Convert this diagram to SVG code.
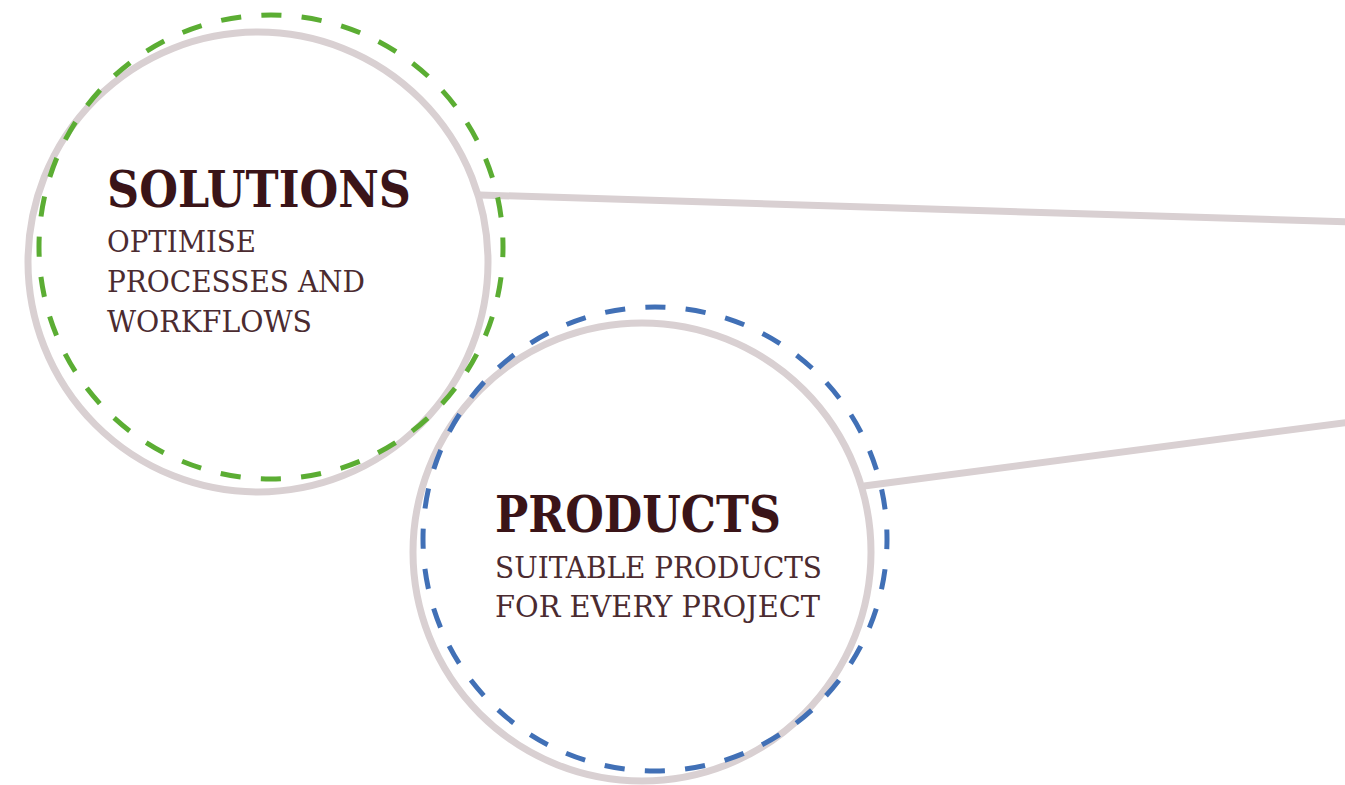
<svg xmlns="http://www.w3.org/2000/svg" width="1345" height="785" viewBox="0 0 1345 785">
  <style>
    .ring { fill: none; stroke: #d9d0d2; stroke-width: 7; }
    .dash { fill: none; stroke-width: 5; stroke-dasharray: 20.25 20.24; stroke-dashoffset: 10.12; }
    .green { stroke: #5bad33; }
    .blue { stroke: #4170b6; }
    .conn { stroke: #d9d0d2; stroke-width: 7; fill: none; }
    .title { font-family: "DejaVu Serif", "Liberation Serif", serif; font-weight: bold; font-size: 50px; fill: #3a1418; }
    .sub { font-family: "DejaVu Serif", "Liberation Serif", serif; font-size: 30px; fill: #4b2b30; }
  </style>
  <rect width="1345" height="785" fill="#ffffff"/>
  <g id="connectors">
    <line class="conn" x1="480" y1="195" x2="1350" y2="222"/>
    <line class="conn" x1="864" y1="486" x2="1350" y2="422"/>
  </g>
  <g id="solutions">
    <circle class="ring" cx="258" cy="262" r="230"/>
    <circle class="dash green" cx="271" cy="247" r="232"/>
    <text class="title" x="107" y="207" textLength="304" lengthAdjust="spacingAndGlyphs">SOLUTIONS</text>
    <text class="sub" x="107" y="252" textLength="149" lengthAdjust="spacingAndGlyphs">OPTIMISE</text>
    <text class="sub" x="107" y="292" textLength="258" lengthAdjust="spacingAndGlyphs">PROCESSES AND</text>
    <text class="sub" x="107" y="332" textLength="205" lengthAdjust="spacingAndGlyphs">WORKFLOWS</text>
  </g>
  <g id="products">
    <circle class="ring" cx="642" cy="552" r="229"/>
    <circle class="dash blue" cx="655" cy="539" r="232"/>
    <text class="title" x="495" y="532" textLength="286" lengthAdjust="spacingAndGlyphs">PRODUCTS</text>
    <text class="sub" x="495" y="578" textLength="327" lengthAdjust="spacingAndGlyphs">SUITABLE PRODUCTS</text>
    <text class="sub" x="495" y="617" textLength="325" lengthAdjust="spacingAndGlyphs">FOR EVERY PROJECT</text>
  </g>
</svg>
